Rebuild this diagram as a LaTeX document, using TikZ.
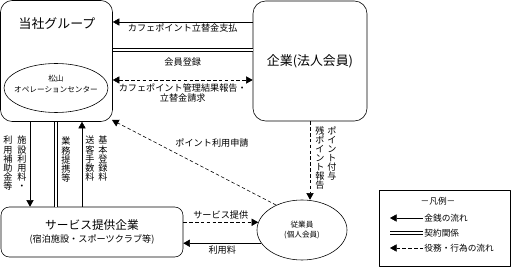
\documentclass[tikz,border=0pt]{standalone}
\usepackage{fontspec}
\setmainfont{Noto Sans CJK JP}
\usetikzlibrary{arrows.meta,shapes.geometric}
\def\px{0.3mm}
\tikzset{
	box/.style={draw, rounded corners=#1, inner sep=0pt},
	box/.default=0pt,
	oval/.style={draw, ellipse, inner sep=0pt},
	dsh/.style={dash pattern=on 3pt off 2pt},
	dbl/.style={double, double distance=1.8pt},
	tate/.style={anchor=north, align=center, inner sep=0pt, font=\fontsize{7.8}{7.8}\selectfont},
	lgtext/.style={right, inner sep=1pt, font=\fontsize{7.4}{7.4}\selectfont},
}
\begin{document}
\begin{tikzpicture}[x=\px, y=-\px, >={Triangle[length=2mm,width=2.2mm]}, line width=0.5pt, line join=round, font=\fontsize{7.8}{8.5}\selectfont]
	\useasboundingbox (0,0) rectangle (512,267);
	% boxes
	\node[box=3.5mm, minimum width=112*\px, minimum height=121*\px] (group) at (56.5,61) {};
	\node[font=\fontsize{11}{11}\selectfont] (grouptitle) at (57,24) {当社グループ};
	\node[oval, minimum width=104*\px, minimum height=49*\px] (ops) at (56,88) {};
	\node[align=center, font=\fontsize{6.5}{10}\selectfont] (opstext) at (56,84) {松山\\オペレーションセンター};
	\node[box=3.8mm, minimum width=114*\px, minimum height=120*\px, font=\fontsize{11}{11}\selectfont] (kigyo) at (310,61) {企業(法人会員)};
	\node[box=2.5mm, minimum width=182*\px, minimum height=50*\px, align=center] (svc) at (92,232) {{\fontsize{10}{10}\selectfont サービス提供企業}\\[2pt](宿泊施設・スポーツクラブ等)};
	\node[oval, minimum width=90*\px, minimum height=60*\px, align=center, font=\fontsize{6.5}{8.5}\selectfont] (emp) at (302,230) {従業員\\(個人会員)};
	% between group and kigyo
	\draw[->] (kigyo.west |- 0,22) -- (group.east |- 0,22) node[midway, below, inner sep=1pt] (pay) {カフェポイント立替金支払};
	\draw[dbl] (kigyo.west |- 0,50) -- (group.east |- 0,50) node[midway, below=3pt] (reg) {会員登録};
	\draw[dsh, <->] (group.east |- 0,80) -- (kigyo.west |- 0,80) node[midway, below, align=center] (rep) {カフェポイント管理結果報告・\\立替金請求};
	% between group and svc
	\draw[->] (group.south -| 30,0) -- (svc.north -| 30,0);
	\draw[dbl] (group.south -| 56,0) -- (svc.north -| 56,0);
	\draw[->] (svc.north -| 82,0) -- (group.south -| 82,0);
	\node[tate] (sub1) at (22,136) {施\\設\\利\\用\\料\\・};
	\node[tate] (sub2) at (8,136) {利\\用\\補\\助\\金\\等};
	\node[tate] (biz) at (66,137) {業\\務\\提\\携\\等};
	\node[tate] (fee1) at (103,136) {基\\本\\登\\録\\料};
	\node[tate] (fee2) at (90,136) {送\\客\\手\\数\\料};
	% employee
	\draw[dsh, ->] (kigyo.south) -- (kigyo.south |- emp.north);
	\node[tate] (pt1) at (332,126) {ポ\\イ\\ン\\ト\\付\\与};
	\node[tate] (pt2) at (320,126) {残\\ポ\\イ\\ン\\ト\\報\\告};
	\coordinate (gse) at (112,120);
	\draw[dsh, ->] (emp.136) -- (gse);
	\node (apply) at (212,143) {ポイント利用申請};
	\draw[dsh, ->] (svc.east |- emp.170) -- (emp.170) node[midway, above, inner sep=2pt] (serve) {サービス提供};
	\draw[->] (emp.198) -- (svc.east |- emp.198) node[midway, below, inner sep=2pt] (use) {利用料};
	% legend
	\node[draw, minimum width=131*\px, minimum height=76*\px] (legend) at (444.5,228) {};
	\node[font=\fontsize{7.4}{7.4}\selectfont] (lgtitle) at (438,201) {－凡例－};
	\coordinate (lg1a) at (390,218); \coordinate (lg1b) at (423,218);
	\coordinate (lg2a) at (390,233); \coordinate (lg2b) at (423,233);
	\coordinate (lg3a) at (390,248); \coordinate (lg3b) at (423,248);
	\draw[<-] (lg1a) -- (lg1b) node[lgtext] (lg1) {金銭の流れ};
	\draw[dbl] (lg2a) -- (lg2b) node[lgtext] (lg2) {契約関係};
	\draw[dsh, <-] (lg3a) -- (lg3b) node[lgtext] (lg3) {役務・行為の流れ};
\end{tikzpicture}
\end{document}
